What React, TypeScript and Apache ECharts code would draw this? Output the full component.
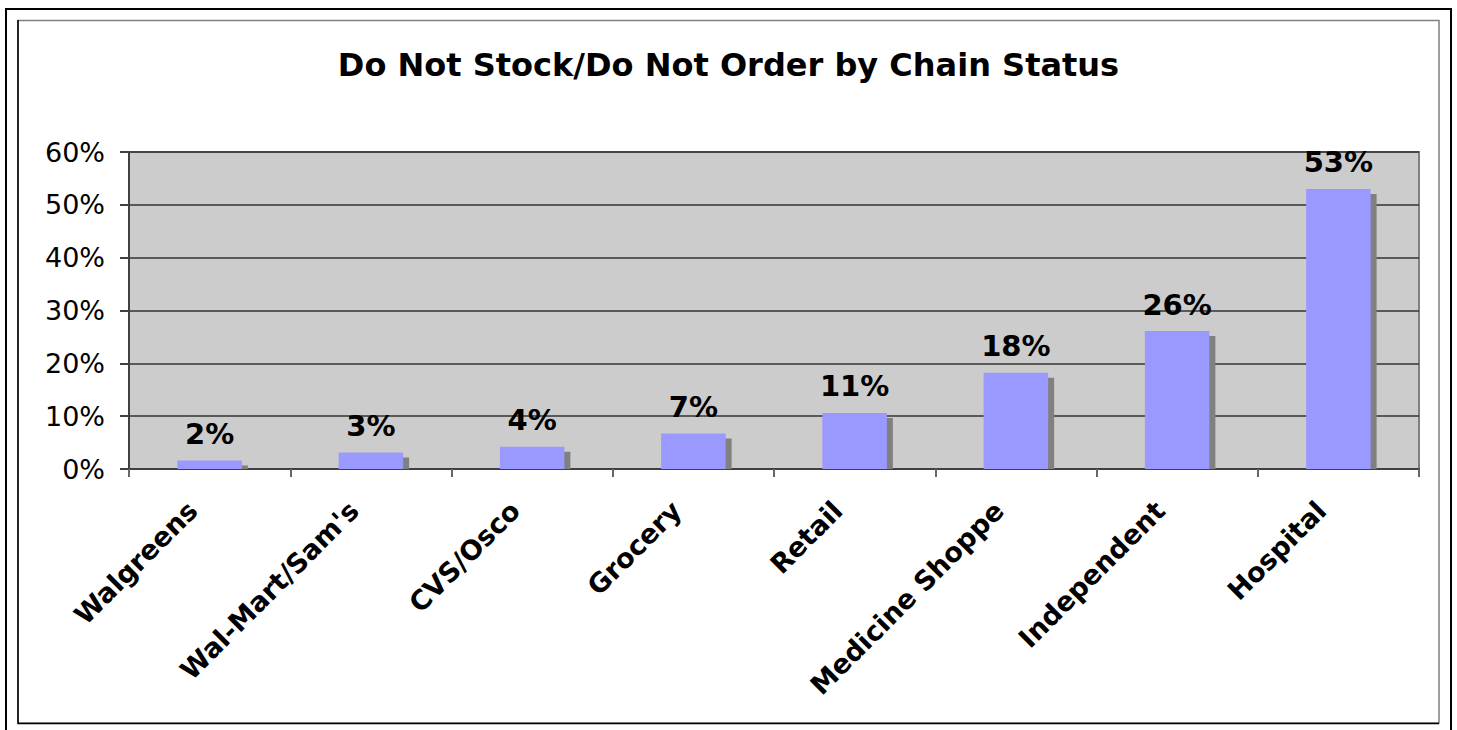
import React, { useEffect, useRef } from "react";
import * as echarts from "echarts";

const titleText = "Do Not Stock/Do Not Order by Chain Status";
const categories = [
  "Walgreens",
  "Wal-Mart/Sam's",
  "CVS/Osco",
  "Grocery",
  "Retail",
  "Medicine Shoppe",
  "Independent",
  "Hospital",
];
const values = [1.6, 3.1, 4.2, 6.7, 10.6, 18.2, 26.1, 53.0];
const valueLabels = ["2%", "3%", "4%", "7%", "11%", "18%", "26%", "53%"];

const FONT = "DejaVu Sans, Verdana, sans-serif";

export default function App() {
  const ref = useRef<HTMLDivElement>(null);
  useEffect(() => {
    if (!ref.current) return;
    const chart = echarts.init(ref.current, undefined, { renderer: "svg" });
    chart.setOption({
      animation: false,
      backgroundColor: "#ffffff",
      title: {
        text: titleText,
        left: "center",
        top: 44,
        textStyle: { fontFamily: FONT, fontSize: 32, fontWeight: "bold", color: "#000" },
      },
      graphic: [
        { type: "rect", shape: { x: 6, y: 9, width: 1445, height: 740 }, style: { fill: "none", stroke: "#000", lineWidth: 2 }, silent: true, z: -10 },
        { type: "polyline", shape: { points: [[18, 723], [18, 20.5], [1439, 20.5], [1439, 723], [18, 723]] }, style: { fill: "none", stroke: "#808080", lineWidth: 1.5 }, silent: true, z: -9 },
        { type: "polyline", shape: { points: [[18, 20], [18, 723.5], [1439, 723.5]] }, style: { fill: "none", stroke: "#000", lineWidth: 1.5 }, silent: true, z: -8 },
      ],
      grid: {
        left: 129,
        right: 38,
        top: 152,
        bottom: 261,
        show: true,
        backgroundColor: "#cccccc",
        borderColor: "#808080",
        borderWidth: 2,
      },
      xAxis: {
        type: "category",
        data: categories,
        axisLine: { show: true, lineStyle: { color: "#404040", width: 2 } },
        axisTick: { show: true, length: 8, lineStyle: { color: "#666", width: 2 } },
        axisLabel: {
          rotate: 45,
          margin: 20,
          padding: [0, 24, 0, 0],
          fontFamily: FONT,
          fontSize: 27,
          fontWeight: "bold",
          color: "#000",
          interval: 0,
        },
        splitLine: { show: false },
      },
      yAxis: {
        type: "value",
        min: 0,
        max: 60,
        interval: 10,
        axisLine: { show: true, lineStyle: { color: "#404040", width: 2 } },
        axisTick: { show: true, length: 9, lineStyle: { color: "#404040", width: 2 } },
        axisLabel: {
          formatter: "{value}%",
          fontFamily: FONT,
          fontSize: 27,
          color: "#000",
          margin: 24,
        },
        splitLine: { show: true, lineStyle: { color: "#333", width: 1.5 } },
      },
      series: [
        {
          type: "custom",
          z: 1,
          silent: true,
          data: values.map((v, i) => [i, v]),
          renderItem: (params: any, api: any) => {
            const x = api.value(0);
            const v = api.value(1);
            const top = api.coord([x, v]);
            const base = api.coord([x, 0]);
            const w = api.size([1, 0])[0] * 0.4;
            const h = Math.max(0, base[1] - top[1] - 5);
            return {
              type: "rect",
              shape: { x: top[0] - w / 2 + 6, y: top[1] + 5, width: w, height: h },
              style: { fill: "#808080" },
            };
          },
        },
        {
          type: "bar",
          z: 2,
          barWidth: "40%",
          data: values,
          itemStyle: { color: "#9999ff" },
          label: {
            show: true,
            position: "top",
            distance: 12,
            fontFamily: FONT,
            fontSize: 29,
            fontWeight: "bold",
            color: "#000",
            formatter: (p: any) => valueLabels[p.dataIndex],
          },
        },
      ],
    });
    return () => chart.dispose();
  }, []);
  return <div ref={ref} style={{ width: 1457, height: 730, position: "absolute", left: 0, top: 0 }} />;
}
